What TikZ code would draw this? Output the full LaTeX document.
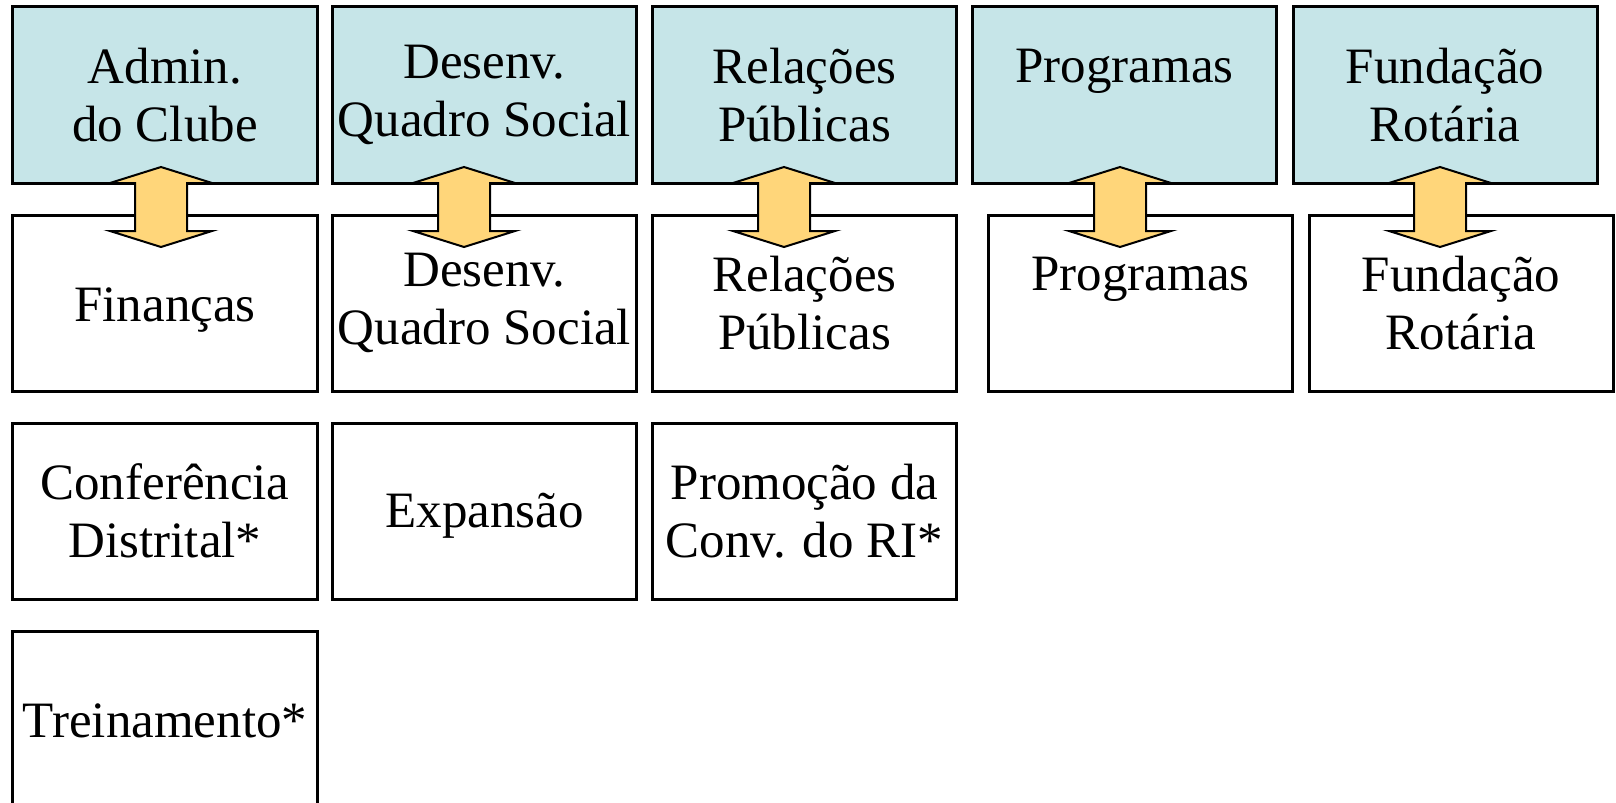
\documentclass[tikz,border=0pt]{standalone}
\usepackage{fontspec}
\setmainfont{Liberation Serif}
\definecolor{topfill}{RGB}{198,229,232}
\definecolor{arrfill}{RGB}{255,214,122}
\newcommand{\dblarr}[1]{%
  \draw[dblarrow] ($(#1)+(0,-40)$) -- ++(51,16) -- ++(-25,0) -- ++(0,48) -- ++(25,0)
    -- ($(#1)+(0,40)$) -- ++(-51,-16) -- ++(25,0) -- ++(0,-48) -- ++(-25,0) -- cycle;}
\newcommand{\lowertext}[2]{\raisebox{-#1}[\height][\depth]{#2}}
\usetikzlibrary{calc}
\begin{document}
\begin{tikzpicture}[x=0.5bp,y=-0.5bp,
  box/.style={draw=black,line width=1.5bp,minimum width=152bp,minimum height=88bp,
    inner sep=0pt,align=center,font=\fontsize{25.5bp}{29bp}\selectfont},
  topbox/.style={box,fill=topfill},
  dblarrow/.style={draw=black,line width=1bp,fill=arrfill,line join=miter}]
\useasboundingbox (0,0) rectangle (1616,803);
\clip (0,0) rectangle (1616,803);
% top row
\node[topbox] (t1) at (165,95)    {Admin.\\do Clube};
\node[topbox] (t2) at (484.5,95)  {Desenv.\\Quadro Social};
\node[topbox] (t3) at (804.5,95)  {Relações\\Públicas};
\node[topbox] (t4) at (1124.5,95) {Programas\\\mbox{}};
\node[topbox] (t5) at (1445,95)   {Fundação\\Rotária};
% second row
\node[box] (b1) at (165,303)    {\lowertext{3.5bp}{Finanças}};
\node[box] (b2) at (484.5,303)  {Desenv.\\Quadro Social};
\node[box] (b3) at (804.5,303)  {Relações\\Públicas};
\node[box] (b4) at (1140.5,303) {Programas\\\mbox{}};
\node[box] (b5) at (1461,303)   {Fundação\\Rotária};
% third row
\node[box] (c1) at (165,511)   {Conferência\\Distrital*};
\node[box] (c2) at (484.5,511) {\lowertext{2.5bp}{Expansão}};
\node[box] (c3) at (804.5,511) {Promoção da\\Conv. do RI*};
% fourth row
\node[box] (d1) at (165,719) {\lowertext{1bp}{Treinamento*}};
% double arrows between rows
\coordinate (a1) at (161,207);
\coordinate (a2) at (464,207);
\coordinate (a3) at (784,207);
\coordinate (a4) at (1120,207);
\coordinate (a5) at (1440,207);
\dblarr{a1}
\dblarr{a2}
\dblarr{a3}
\dblarr{a4}
\dblarr{a5}
\end{tikzpicture}
\end{document}
